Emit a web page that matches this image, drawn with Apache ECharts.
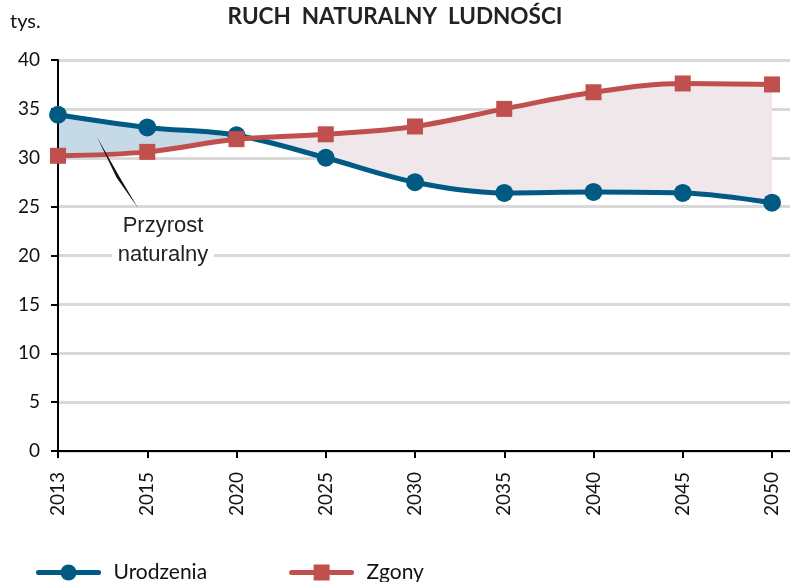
<!DOCTYPE html>
<html><head><meta charset="utf-8">
<script src="https://cdn.jsdelivr.net/npm/echarts@6/dist/echarts.min.js"></script>
<style>html,body{margin:0;padding:0;background:#fff}#c{width:790px;height:582px}</style>
</head><body><div id="c"></div>
<script>
// ---- data ----
const years = ['2013','2015','2020','2025','2030','2035','2040','2045','2050'];
const urodzenia = [34.4, 33.1, 32.3, 30.0, 27.5, 26.4, 26.5, 26.4, 25.4];
const zgony     = [30.2, 30.6, 31.9, 32.4, 33.2, 35.0, 36.7, 37.6, 37.5];
const yTicks = [0, 5, 10, 15, 20, 25, 30, 35, 40];
const crossAt = 2.14; // position (in year-index units) where the two curves cross

const BLUE = '#005a84', RED = '#c0504d';
const FILL_POS = '#c6d9e7', FILL_NEG = '#f0e7ea';
const S = 0.35;
const f = crossAt / (years.length - 1);
const gap = urodzenia.map((v, i) => v - zgony[i]);

const yCommon = { type: 'value', min: yTicks[0], max: yTicks[yTicks.length - 1], interval: 5 };

const chart = echarts.init(document.getElementById('c'));
chart.setOption({
  animation: false,
  backgroundColor: '#fff',
  title: {
    text: 'RUCH  NATURALNY  LUDNOŚCI', left: 'center', top: 0,
    textStyle: { fontFamily: 'Lato', fontWeight: 'bold', fontSize: 22.5, color: '#222' }
  },
  grid: [
    { left: 58, right: 18, top: 60, bottom: 131 },   // data grid
    { left: 58, right: 0, top: 60, bottom: 131 }     // background grid (gridlines / axis extension)
  ],
  xAxis: [
    { type: 'category', gridIndex: 0, data: years, boundaryGap: false, z: 2,
      axisLine: { lineStyle: { color: '#000', width: 2 } },
      axisTick: { show: true, length: 7, lineStyle: { color: '#000', width: 2 } },
      axisLabel: { rotate: 90, margin: 21, fontFamily: 'Lato', fontSize: 19, color: '#111' },
      splitLine: { show: false } },
    { type: 'value', gridIndex: 1, min: 0, max: 1, z: 1,
      axisLine: { lineStyle: { color: '#000', width: 2 } },
      axisTick: { show: false }, axisLabel: { show: false }, splitLine: { show: false } }
  ],
  yAxis: [
    Object.assign({ gridIndex: 0, z: 2,
      axisLine: { show: true, lineStyle: { color: '#000', width: 2 } },
      axisTick: { show: true, length: 7, lineStyle: { color: '#000', width: 2 } },
      axisLabel: { margin: 18, fontFamily: 'Lato', fontSize: 19, color: '#111' },
      splitLine: { show: false } }, yCommon),
    Object.assign({ gridIndex: 1, z: 0,
      axisLine: { show: false }, axisTick: { show: false }, axisLabel: { show: false },
      splitLine: { lineStyle: { color: '#d9d9d9', width: 3 } } }, yCommon)
  ],
  legend: {
    data: ['Urodzenia', 'Zgony'], left: 31, top: 557,
    itemWidth: 60, itemHeight: 20, itemGap: 82,
    lineStyle: { width: 5, cap: 'round' },
    textStyle: { fontFamily: 'Lato', fontSize: 21, color: '#111', padding: [0, 0, 0, 10] }
  },
  series: [
    { name: 'base', type: 'line', stack: 'gap', stackStrategy: 'all', smooth: S,
      data: zgony, symbol: 'none', silent: true, lineStyle: { opacity: 0 }, z: 1 },
    { name: 'gap', type: 'line', stack: 'gap', stackStrategy: 'all', smooth: S,
      data: gap, symbol: 'none', silent: true, lineStyle: { opacity: 0 },
      areaStyle: { opacity: 1, color: new echarts.graphic.LinearGradient(0, 0, 1, 0, [
        { offset: 0, color: FILL_POS }, { offset: f, color: FILL_POS },
        { offset: f, color: FILL_NEG }, { offset: 1, color: FILL_NEG }]) },
      z: 1 },
    { name: 'Urodzenia', type: 'line', smooth: S, data: urodzenia,
      symbol: 'circle', symbolSize: 18, color: BLUE,
      lineStyle: { color: BLUE, width: 5 }, itemStyle: { color: BLUE }, z: 3 },
    { name: 'Zgony', type: 'line', smooth: S, data: zgony,
      symbol: 'rect', symbolSize: 16, color: RED,
      lineStyle: { color: RED, width: 5 }, itemStyle: { color: RED }, z: 4 }
  ],
  graphic: [
    { type: 'text', left: 10, top: 12, style: { text: 'tys.', font: '20px Lato', fill: '#111' } },
    { type: 'rect', shape: { x: 112, y: 244, width: 102, height: 22 }, style: { fill: '#fff' }, z: 95 },
    { type: 'text', x: 163, y: 240, z: 96, style: { text: 'Przyrost\nnaturalny', font: '22px "Liberation Sans"',
      fill: '#222', align: 'center', verticalAlign: 'middle', lineHeight: 29 } },
    { type: 'text', x: 628, y: 145, style: { text: 'Ubytek naturalny', font: '22px "Liberation Sans"',
      fill: '#222', align: 'center', verticalAlign: 'middle' } },
    { type: 'polygon', shape: { points: [[97, 137], [119, 176], [138, 208], [116.5, 177.5]] },
      style: { fill: '#111' }, z: 100 }
  ]
});
</script></body></html>
